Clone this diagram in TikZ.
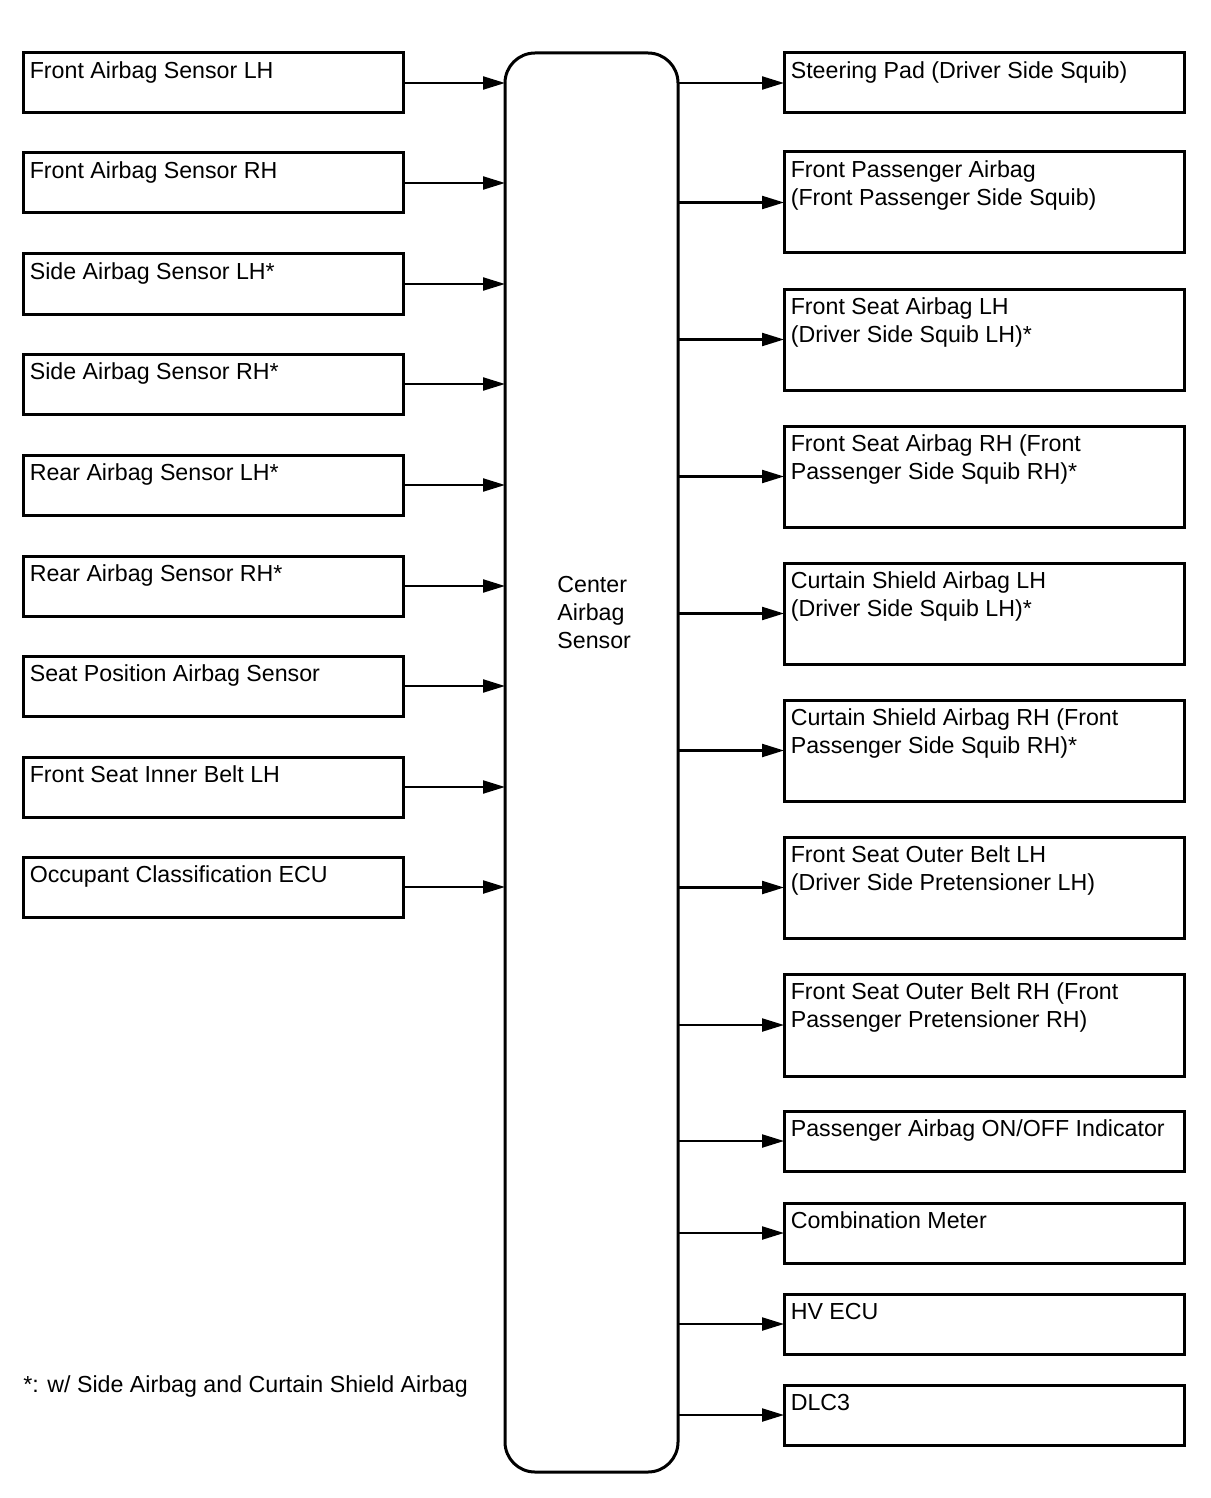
\documentclass[tikz,border=0pt]{standalone}
\usepackage{fontspec}
\setmainfont{Liberation Sans}
\usetikzlibrary{arrows.meta}

\begin{document}
\begin{tikzpicture}
\tikzset{sensorbox/.style={draw=black,line width=1.5pt,rectangle,inner sep=0pt,outer sep=0pt,anchor=north west,minimum width=190pt}}
\tikzset{ecubox/.style={draw=black,line width=1.5pt,rectangle,rounded corners=15pt,inner sep=0pt,outer sep=0pt,anchor=north west,minimum width=86.5pt,minimum height=709.5pt}}
\tikzset{boxtext/.style={anchor=north west,align=left,inner xsep=3.2pt,inner ysep=4.2pt,font={\fontsize{11.6pt}{14pt}\selectfont}}}
\tikzset{sigarrow/.style={draw=black,line width=1.1pt,-{Triangle[length=11pt,width=6.5pt]}}}

\begin{scope}[x={(0.5pt,0pt)},y={(0pt,-0.5pt)}]
\useasboundingbox (0,0) rectangle (1210,1498);

\node[ecubox] (cas) at (505,53) {};
\node[boxtext,inner sep=0pt] (castext) at (557,576) {Center\\Airbag\\Sensor};

% sensors into the center unit
\foreach \i/\y/\txt in {1/53/{Front Airbag Sensor LH},
                        2/153/{Front Airbag Sensor RH},
                        3/254/{Side Airbag Sensor LH*},
                        4/354/{Side Airbag Sensor RH*},
                        5/455/{Rear Airbag Sensor LH*},
                        6/556/{Rear Airbag Sensor RH*},
                        7/656/{Seat Position Airbag Sensor},
                        8/757/{Front Seat Inner Belt LH},
                        9/857/{Occupant Classification ECU}} {
  \node[sensorbox,minimum height=30pt] (in\i) at (23,\y) {};
  \node[boxtext] (intext\i) at (in\i.north west) {\txt};
  \path[sigarrow] (in\i.east) -- (in\i.east -| cas.west);
}

% squibs, indicators and bus
\foreach \i/\y/\h/\txt in {1/53/30/{Steering Pad (Driver Side Squib)},
                           2/152/50.5/{Front Passenger Airbag\\(Front Passenger Side Squib)},
                           3/289/50.5/{Front Seat Airbag LH\\(Driver Side Squib LH)*},
                           4/426/50.5/{Front Seat Airbag RH (Front\\Passenger Side Squib RH)*},
                           5/563/50.5/{Curtain Shield Airbag LH\\(Driver Side Squib LH)*},
                           6/700/50.5/{Curtain Shield Airbag RH (Front\\Passenger Side Squib RH)*},
                           7/837/50.5/{Front Seat Outer Belt LH\\(Driver Side Pretensioner LH)},
                           8/974/51/{Front Seat Outer Belt RH (Front\\Passenger Pretensioner RH)},
                           9/1111/30/{Passenger Airbag ON/OFF Indicator},
                           10/1203/30/{Combination Meter},
                           11/1294/30/{HV ECU},
                           12/1385/30/{DLC3}} {
  \node[sensorbox,minimum width=200pt,minimum height=\h pt] (out\i) at (784,\y) {};
  \node[boxtext] (outtext\i) at (out\i.north west) {\txt};
  \path[sigarrow] (cas.east |- out\i.west) -- (out\i.west);
}

\node[anchor=base west,inner sep=0pt,font={\fontsize{11.6pt}{14pt}\selectfont}] (note) at (23,1392) {*: w/ Side Airbag and Curtain Shield Airbag};

\end{scope}
\end{tikzpicture}
\end{document}
